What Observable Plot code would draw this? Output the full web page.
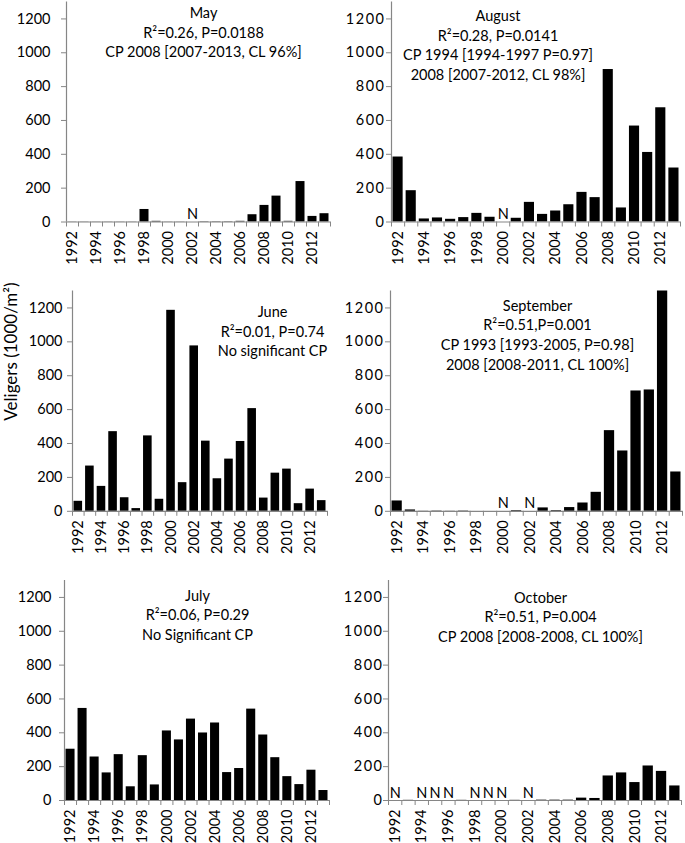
<!DOCTYPE html>
<html><head><meta charset="utf-8">
<script src="https://cdn.jsdelivr.net/npm/d3@7"></script>
<script src="https://cdn.jsdelivr.net/npm/@observablehq/plot@0.6"></script>
<style>
body{margin:0;background:#fff;}
#chart{position:relative;width:685px;height:843px;font-family:Lato,sans-serif;}
#chart svg{position:absolute;overflow:visible;}
#chart .rightcol g[aria-label="y-axis tick label"] text{letter-spacing:1.5px;}
</style></head><body><div id="chart"></div>
<script>
// ---- data ----
const years = [1992,1993,1994,1995,1996,1997,1998,1999,2000,2001,2002,2003,2004,2005,2006,2007,2008,2009,2010,2011,2012,2013];
const yearLabels = [1992,1994,1996,1998,2000,2002,2004,2006,2008,2010,2012];
const yTicks = [0,200,400,600,800,1000,1200];
// null = "N" (no sample)
const may       = [1,1,1,1,1,1,74,4,1,1,null,2,2,2,4,43,98,153,4,239,33,49];
const june      = [59,267,147,470,80,16,445,71,1186,169,976,414,192,308,412,606,78,225,249,45,131,63];
const july      = [303,544,257,163,271,81,265,92,411,358,481,399,458,165,189,540,387,253,141,94,179,59];
const august    = [384,185,18,24,16,26,51,28,null,22,116,45,65,102,175,144,901,83,567,411,675,319];
const september = [61,8,1,2,1,2,0,0,null,4,null,20,4,22,49,112,476,356,710,716,1300,232];
const october   = [null,1,null,null,null,1,null,null,null,1,null,2,2,2,14,12,145,163,106,204,172,86];

const notesMay = ["May","R²=0.26, P=0.0188","CP 2008 [2007-2013, CL 96%]"];
const notesJune = ["June","R²=0.01, P=0.74","No significant CP"];
const notesJuly = ["July","R²=0.06, P=0.29","No Significant CP"];
const notesAugust = ["August","R²=0.28, P=0.0141","CP 1994 [1994-1997 P=0.97]","2008 [2007-2012, CL 98%]"];
const notesSeptember = ["September","R²=0.51,P=0.001","CP 1993 [1993-2005, P=0.98]","2008 [2008-2011, CL 100%]"];
const notesOctober = ["October","R²=0.51, P=0.004","CP 2008 [2008-2008, CL 100%]"];
const yLabel = "Veligers (1000/m²)";

// ---- layout ----
const grey = "#868686";
const panels = [
  {values: may, notes: notesMay, left: 0, top: 0, width: 340, ml: 66, mr: 10, mt: 1.5, mb: 61.5, pad: 11, dx: 5, dy: 2, cls: "leftcol"},
  {values: june, notes: notesJune, left: 0, top: 280, width: 340, ml: 72, mr: 13, mt: 10.5, mb: 52.2, pad: 5, dx: 72.5, dy: 12, cls: "leftcol", ylabel: true},
  {values: july, notes: notesJuly, left: 0, top: 560, width: 340, ml: 64, mr: 11, mt: 20, mb: 43, pad: 8, dx: 0.5, dy: 6, cls: "leftcol"},
  {values: august, notes: notesAugust, left: 340, top: 0, width: 345, ml: 51, mr: 5, mt: 1.5, mb: 61.5, pad: 1, dx: -38, dy: 5, cls: "rightcol"},
  {values: september, notes: notesSeptember, left: 340, top: 280, width: 345, ml: 50, mr: 3, mt: 10.5, mb: 52.2, pad: 1, dx: 1, dy: 5.5, cls: "rightcol"},
  {values: october, notes: notesOctober, left: 340, top: 560, width: 345, ml: 48, mr: 4, mt: 20, mb: 43, pad: 0, dx: 5.5, dy: 8, cls: "rightcol"}
];

const chart = document.getElementById("chart");
for (const p of panels) {
  const rows = years.map((year, i) => ({year, value: p.values[i]}));
  const present = rows.filter(d => d.value != null);
  const missing = rows.filter(d => d.value == null);
  const bounds = [years[0] - 0.5, ...years.map(y => y + 0.5)];
  const marks = [
    Plot.rectY(present, {x1: d => d.year - 0.5, x2: d => d.year + 0.5, y: "value", fill: "black", insetLeft: 1.5, insetRight: 1.5}),
    Plot.ruleY([0], {stroke: grey, strokeWidth: 1.2}),
    Plot.ruleX([years[0] - 0.5], {stroke: grey, strokeWidth: 1.2}),
    Plot.axisY({ticks: yTicks, tickSize: 5, tickPadding: p.pad, tickFormat: d => String(d), stroke: grey, fill: "black", fontSize: 14.5, label: null}),
    Plot.axisX({ticks: bounds, tickSize: 5, tickFormat: () => "", stroke: grey, label: null}),
    Plot.axisX({ticks: yearLabels, tickSize: 0, tickPadding: 9, tickRotate: -90, tickFormat: d => String(d), fill: "black", fontSize: 14.5, label: null}),
    Plot.text(missing, {x: "year", y: 0, text: () => "N", lineAnchor: "bottom", dy: -3, fontSize: 14.5, fill: "black"}),
    Plot.text([p.notes.join("\n")], {frameAnchor: "top", lineAnchor: "top", dx: p.dx, dy: p.dy, lineHeight: 1.36, fontSize: 14.5, fill: "black"})
  ];
  if (p.ylabel) {
    marks.push(Plot.text([yLabel], {frameAnchor: "left", rotate: -90, dx: -61, dy: 19.5, fontSize: 17, fill: "black"}));
  }
  const svg = Plot.plot({
    width: p.width,
    height: 283,
    marginLeft: p.ml, marginRight: p.mr, marginTop: p.mt, marginBottom: p.mb,
    x: {type: "linear", domain: [years[0] - 0.5, years[years.length - 1] + 0.5]},
    y: {domain: [0, 1300]},
    style: {fontFamily: "Lato, sans-serif", fontSize: "14px", color: "black", background: "transparent"},
    marks
  });
  svg.style.left = p.left + "px";
  svg.style.top = p.top + "px";
  svg.classList.add(p.cls);
  chart.appendChild(svg);
}
</script></body></html>
